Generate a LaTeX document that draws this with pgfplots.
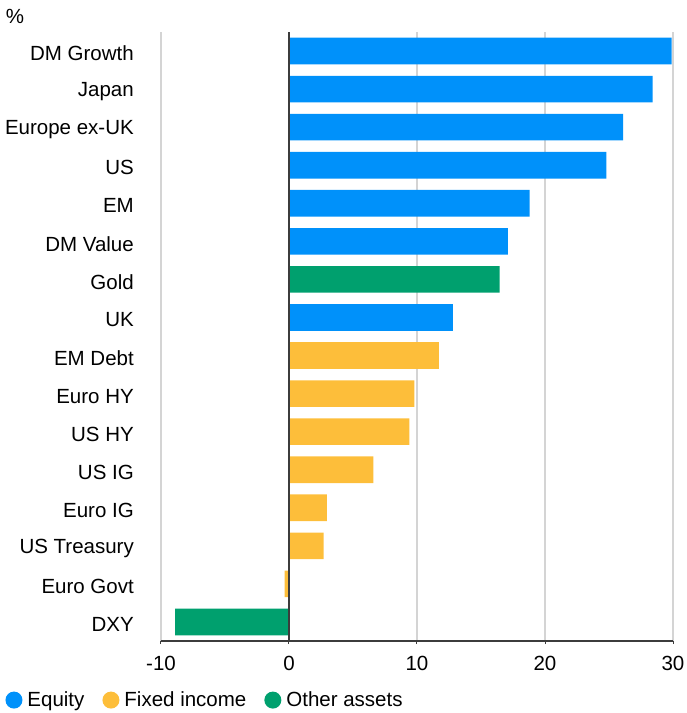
\documentclass[border=0pt]{standalone}
\usepackage{pgfplots}
\pgfplotsset{compat=1.18}
\usepackage{fontspec}
\setmainfont{Liberation Sans}
\definecolor{eqblue}{RGB}{0,145,250}
\definecolor{fiyellow}{RGB}{253,190,58}
\definecolor{otgreen}{RGB}{0,160,110}
\definecolor{gridgrey}{RGB}{212,212,212}
\definecolor{axisdark}{RGB}{60,60,60}
\begin{document}
\begin{tikzpicture}
\begin{axis}[
  scale only axis,
  width=512pt, height=609pt,
  xmin=-10, xmax=30,
  ymin=-0.5, ymax=15.5,
  y dir=reverse,
  xbar, bar shift=0pt, bar width=0.7,
  xtick={-10,0,10,20,30},
  ytick={0,...,15},
  yticklabels={DM Growth,Japan,Europe ex-UK,US,EM,DM Value,Gold,UK,EM Debt,Euro HY,US HY,US IG,Euro IG,US Treasury,Euro Govt,DXY},
  font=\fontsize{20.5}{24}\selectfont,
  /pgf/number format/assume math mode=true,
  yticklabel style={anchor=east, inner sep=0pt, xshift=-24pt, yshift=-2.5pt},
  xticklabel style={inner sep=0pt, yshift=-12pt},
  axis x line*=bottom, axis y line*=left,
  y axis line style={draw=none},
  x axis line style={-, draw=axisdark, line width=1.3pt},
  y tick style={draw=none},
  x tick style={draw=axisdark, line width=1pt},
  tick align=outside,
  major tick length=3pt,
  xmajorgrids,
  grid style={gridgrey, line width=1.3pt},
  clip=false,
  legend columns=3,
  legend style={at={(-0.31,-0.097)}, anchor=west, draw=none, fill=none,
    font=\fontsize{20.5}{24}\selectfont,
    /tikz/every even column/.append style={column sep=17pt},
    nodes={inner sep=1pt}},
  legend cell align=left,
]
\addplot[fill=eqblue, draw=none,
  legend image code/.code={\fill[eqblue] (8.5pt,0pt) circle (8.5pt); \path (0pt,0pt) (21pt,0pt);}]
  coordinates {(29.9,0) (28.4,1) (26.1,2) (24.8,3) (18.8,4) (17.1,5) (12.8,7)};
\addlegendentry{Equity}
\addplot[fill=fiyellow, draw=none,
  legend image code/.code={\fill[fiyellow] (8.5pt,0pt) circle (8.5pt); \path (0pt,0pt) (21pt,0pt);}]
  coordinates {(11.7,8) (9.8,9) (9.4,10) (6.6,11) (2.95,12) (2.7,13) (-0.35,14)};
\addlegendentry{Fixed income}
\addplot[fill=otgreen, draw=none,
  legend image code/.code={\fill[otgreen] (8.5pt,0pt) circle (8.5pt); \path (0pt,0pt) (21pt,0pt);}]
  coordinates {(16.45,6) (-8.9,15)};
\addlegendentry{Other assets}
\addplot[forget plot, sharp plot, draw=axisdark, line width=1.3pt, mark=none]
  coordinates {(0,-0.5) (0,15.5)};
\node[anchor=center] at (rel axis cs:0,1) [xshift=-146pt, yshift=16pt] {\%};
\end{axis}
\path (current axis.south west) ++(-161pt,-72pt) rectangle ++(687pt,713pt);
\end{tikzpicture}
\end{document}
